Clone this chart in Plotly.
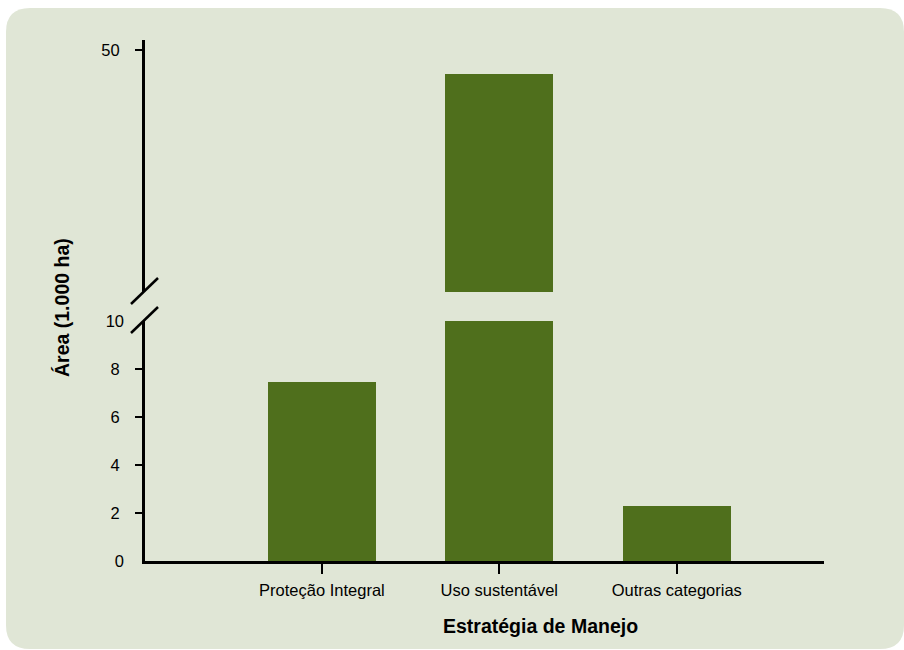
import plotly.graph_objects as go

# Área por estratégia de manejo (mil ha)
categorias = ["Proteção Integral", "Uso sustentável", "Outras categorias"]
area = [7.45, 46.0, 2.3]

# Ticks of the two axis segments (broken axis)
ticks_baixo = [2, 4, 6, 8]
rotulos_baixo = [0, 10]
ticks_cima = [50]

FUNDO = "#e0e6d6"
BARRA = "#4f6f1c"
FONTE = "Liberation Sans, Arial, sans-serif"

W, H = 904, 650
L, R, T, B = 145, 80, 40, 89
PW, PH = W - L - R, H - T - B


def px(x):
    return (x - L) / PW


def py(y):
    return (H - B - y) / PH


# lower segment: 0..10, upper segment: 10..51.65
dom_baixo = [0, py(321)]
dom_cima = [py(292), 1]

x = list(range(len(categorias)))

fig = go.Figure()
fig.add_trace(go.Bar(x=x, y=area, width=0.61, marker=dict(color=BARRA, line=dict(width=0)),
                     xaxis="x", yaxis="y", showlegend=False, hoverinfo="skip"))
fig.add_trace(go.Bar(x=x, y=area, width=0.61, marker=dict(color=BARRA, line=dict(width=0)),
                     xaxis="x", yaxis="y2", showlegend=False, hoverinfo="skip"))
# carries the 0 / 10 labels of the lower segment (no marks drawn)
fig.add_trace(go.Scatter(x=x, y=area, mode="none", xaxis="x", yaxis="y3",
                         showlegend=False, hoverinfo="skip"))

tick_font = dict(family=FONTE, size=16.5, color="black")
eixo = dict(showgrid=False, zeroline=False, showline=True, linecolor="black", linewidth=3,
            ticks="outside", tickcolor="black", tickwidth=2, ticklen=7, tickfont=tick_font)

fig.update_layout(
    width=W, height=H,
    margin=dict(l=L, r=R, t=T, b=B),
    paper_bgcolor="white",
    plot_bgcolor="rgba(0,0,0,0)",
    bargap=0,
    xaxis=dict(showgrid=False, zeroline=False, showline=True, linecolor="black", linewidth=3,
               anchor="y", range=[-0.997, 2.83], tickvals=x, ticktext=categorias,
               ticks="outside", tickcolor="black", tickwidth=2, ticklen=10,
               ticklabelstandoff=2, tickfont=tick_font),
    yaxis=dict(eixo, domain=dom_baixo, range=[0, 10], tickvals=ticks_baixo,
               ticklabelstandoff=12, anchor="x"),
    yaxis3=dict(showgrid=False, zeroline=False, showline=False, domain=dom_baixo,
                range=[0, 10], tickvals=rotulos_baixo, ticks="", overlaying="y",
                side="left", anchor="x", ticklabelstandoff=20, tickfont=tick_font),
    yaxis2=dict(eixo, domain=dom_cima, range=[10, 51.65], tickvals=ticks_cima,
                ticklabelstandoff=12, anchor="x"),
)

# Rounded panel behind the chart
x0, x1, y0, y1, r = 6, 904, 8, 649, 24
caminho = (
    f"M {px(x0 + r)} {py(y0)} L {px(x1 - r)} {py(y0)} "
    f"Q {px(x1)} {py(y0)} {px(x1)} {py(y0 + r)} "
    f"L {px(x1)} {py(y1 - r)} Q {px(x1)} {py(y1)} {px(x1 - r)} {py(y1)} "
    f"L {px(x0 + r)} {py(y1)} Q {px(x0)} {py(y1)} {px(x0)} {py(y1 - r)} "
    f"L {px(x0)} {py(y0 + r)} Q {px(x0)} {py(y0)} {px(x0 + r)} {py(y0)} Z"
)
fig.add_shape(type="path", path=caminho, xref="paper", yref="paper",
              fillcolor=FUNDO, line=dict(width=0), layer="below")

# Break marks on the y axis
for (ax, ay, bx, by) in [(131, 304, 158, 278), (131, 333, 158, 307)]:
    fig.add_shape(type="line", xref="paper", yref="paper",
                  x0=px(ax), y0=py(ay), x1=px(bx), y1=py(by),
                  line=dict(color="black", width=2.5))

fig.add_annotation(text="<b>Estratégia de Manejo</b>", xref="paper", yref="paper",
                   x=px(540), y=py(626), xanchor="center", yanchor="middle",
                   showarrow=False, font=dict(family=FONTE, size=19.5, color="black"))
fig.add_annotation(text="<b>Área (1.000 ha)</b>", xref="paper", yref="paper",
                   x=px(62), y=py(308), xanchor="center", yanchor="middle",
                   textangle=-90, showarrow=False,
                   font=dict(family=FONTE, size=19.5, color="black"))

fig.write_html("out.html")
